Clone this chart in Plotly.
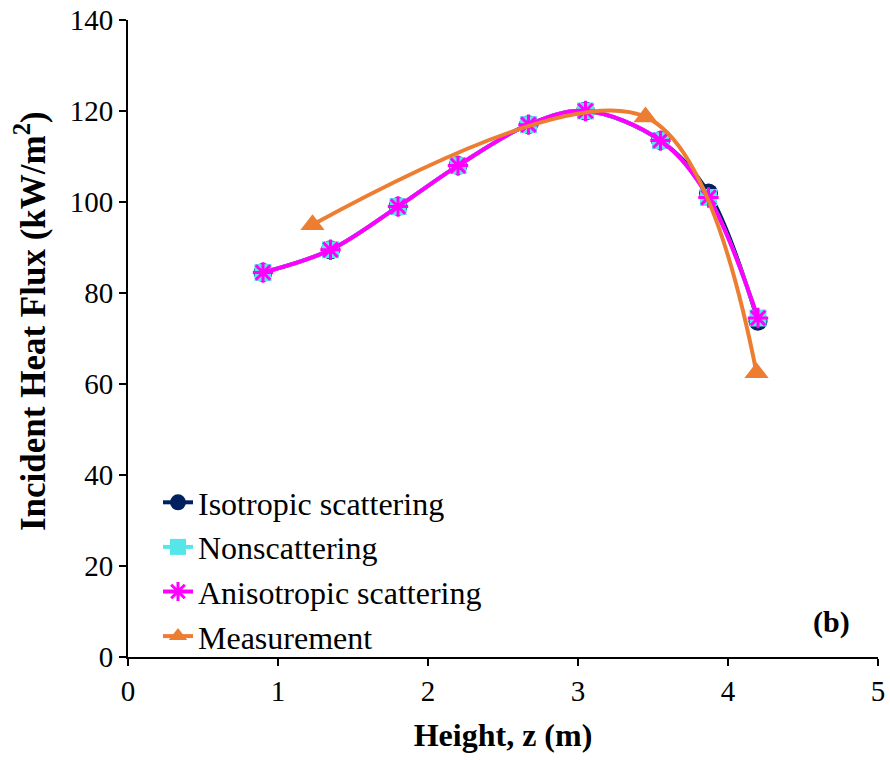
import plotly.graph_objects as go

heights = [0.9, 1.35, 1.8, 2.2, 2.67, 3.05, 3.55, 3.87, 4.2]
isotropic = [84.5, 89.5, 99.0, 108.0, 117.0, 120.0, 113.5, 102.0, 73.8]
nonscattering = [84.5, 89.5, 99.0, 108.0, 117.0, 120.0, 113.5, 101.0, 74.5]
anisotropic = [84.5, 89.5, 99.0, 108.0, 117.0, 120.0, 113.5, 101.0, 74.5]
meas_heights = [1.23, 3.45, 4.19]
measurement = [95.0, 118.7, 62.5]

x_ticks = [0, 1, 2, 3, 4, 5]
y_ticks = [0, 20, 40, 60, 80, 100, 120, 140]

FONT = "Liberation Serif"

fig = go.Figure()
fig.add_trace(go.Scatter(x=heights, y=isotropic, name="Isotropic scattering",
                         mode="lines+markers", line=dict(color="#002060", width=4, shape="spline"),
                         marker=dict(symbol="circle", size=19, color="#002060")))
fig.add_trace(go.Scatter(x=heights, y=nonscattering, name="Nonscattering",
                         mode="lines+markers", line=dict(color="#55E6EA", width=4, shape="spline"),
                         marker=dict(symbol="square", size=17, color="#55E6EA")))
fig.add_trace(go.Scatter(x=heights, y=anisotropic, name="Anisotropic scattering",
                         mode="lines+markers", line=dict(color="#FF00FF", width=4, shape="spline"),
                         marker=dict(symbol="asterisk-open", size=17, color="#FF00FF",
                                     line=dict(color="#FF00FF", width=3))))
fig.add_trace(go.Scatter(x=meas_heights, y=measurement, name="Measurement",
                         mode="lines+markers", line=dict(color="#ED7D31", width=4, shape="spline"),
                         marker=dict(symbol="triangle-up", size=21, color="#ED7D31")))

fig.update_layout(
    width=890, height=760,
    margin=dict(l=128, r=12, t=20, b=103),
    plot_bgcolor="white", paper_bgcolor="white",
    font=dict(family=FONT, size=28, color="black"),
    showlegend=True,
    legend=dict(x=0.04, y=-0.011, xanchor="left", yanchor="bottom",
                bgcolor="rgba(255,255,255,0)", font=dict(family=FONT, size=32),
                tracegroupgap=0, itemsizing="trace"),
    xaxis=dict(range=[0, 5], tickvals=x_ticks, showgrid=False, zeroline=False,
               showline=True, linecolor="black", linewidth=2, automargin=False,
               ticks="outside", ticklen=7, tickwidth=1.5, tickcolor="black",
               ticklabeloverflow="allow",
               tickfont=dict(family=FONT, size=29),
               title=dict(text="<b>Height, z (m)</b>", font=dict(family=FONT, size=32), standoff=18)),
    yaxis=dict(range=[0, 140], tickvals=y_ticks, showgrid=False, zeroline=False,
               showline=True, linecolor="black", linewidth=2, automargin=False,
               ticks="outside", ticklen=7, tickwidth=1.5, tickcolor="black",
               ticklabeloverflow="allow",
               tickfont=dict(family=FONT, size=29)),
    annotations=[
        dict(text="<b>Incident Heat Flux (kW/m<sup>2</sup>)</b>", textangle=-90,
             x=-0.1293, y=0.5275, xref="paper", yref="paper",
             xanchor="center", yanchor="middle", showarrow=False,
             font=dict(family=FONT, size=35, color="black")),
        dict(text="<b>(b)</b>", x=0.965, y=0.055, xref="paper", yref="paper",
             xanchor="right", yanchor="middle", showarrow=False,
             font=dict(family=FONT, size=30, color="black")),
    ],
)

fig.write_html("out.html", post_script="document.body.style.margin='0';",
               config={"displayModeBar": False})
